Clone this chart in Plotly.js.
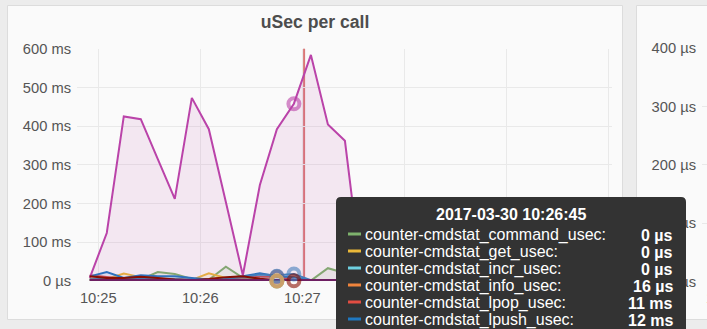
<!DOCTYPE html>
<html><head><meta charset="utf-8">
<script src="https://cdn.plot.ly/plotly-3.0.1.min.js"></script>
<style>html,body{margin:0;padding:0;background:#ececec;overflow:hidden}</style>
</head><body><div id="chart" style="width:707px;height:329px"></div>
<script>
// ---------- data ----------
const times = ['2017-03-30 10:24:55','2017-03-30 10:25:05','2017-03-30 10:25:15','2017-03-30 10:25:25',
  '2017-03-30 10:25:35','2017-03-30 10:25:45','2017-03-30 10:25:55','2017-03-30 10:26:05',
  '2017-03-30 10:26:15','2017-03-30 10:26:25','2017-03-30 10:26:35','2017-03-30 10:26:45',
  '2017-03-30 10:26:55','2017-03-30 10:27:05','2017-03-30 10:27:15','2017-03-30 10:27:25','2017-03-30 10:27:35'];
// values in ms
const commandUsec = [3, 4, 3, 4, 23, 18, 5, 3, 37, 8, 3, 0, 0, 1, 33, 20, 8];
const getUsec     = [6, 5, 19, 10, 6, 4, 3, 20, 8, 4, 3, 0, 0, 0, 0, 0, 0];
const incrUsec    = [3, 6, 4, 8, 5, 3, 2, 3, 4, 3, 3, 0, 0, 0, 0, 0, 0];
const infoUsec    = [2, 2, 2, 2, 2, 2, 1, 2, 2, 2, 1, 0.016, 1, 1, 1, 1, 1];
const lpopUsec    = [15, 10, 6, 8, 5, 4, 3, 5, 8, 10, 11, 11, 4, 1, 1, 1, 1];
const lpushUsec   = [12, 23, 8, 15, 12, 12, 8, 4, 8, 12, 20, 12, 10, 1, 1, 1, 1];
const lrangeUsec  = [8, 124, 425, 418, 315, 212, 473, 392, 204, 15, 248, 392, 458, 584, 404, 362, 5];
const rpopUsec    = [4, 6, 5, 7, 6, 5, 3, 4, 6, 10, 17, 15, 18, 2, 1, 1, 1];
const rpushUsec   = [12, 8, 8, 11, 8, 4, 2, 5, 10, 12, 6, 2, 0.5, 0.5, 0.5, 0.5, 0.5];
const setUsec     = [1.5, 1.5, 1.5, 1.5, 1.5, 1.5, 1.5, 1.5, 1.5, 1.5, 1.5, 1.5, 1.5, 1.5, 1.5, 1.5, 1.5];

const seriesNames = ['counter-cmdstat_command_usec','counter-cmdstat_get_usec','counter-cmdstat_incr_usec',
  'counter-cmdstat_info_usec','counter-cmdstat_lpop_usec','counter-cmdstat_lpush_usec',
  'counter-cmdstat_lrange_usec','counter-cmdstat_rpop_usec','counter-cmdstat_rpush_usec','counter-cmdstat_set_usec'];
const seriesValues = [commandUsec, getUsec, incrUsec, infoUsec, lpopUsec, lpushUsec, lrangeUsec, rpopUsec, rpushUsec, setUsec];
const seriesColors = ['#7EB26D','#EAB839','#6ED0E0','#EF843C','#E24D42','#1F78C1','#BA43A9','#447EBC','#890F02','#6D1F62'];

const xTickVals = ['2017-03-30 10:25:00','2017-03-30 10:26:00','2017-03-30 10:27:00',
  '2017-03-30 10:28:00','2017-03-30 10:29:00','2017-03-30 10:30:00'];
const xTickText = ['10:25','10:26','10:27','','',''];   // later labels are hidden under the tooltip
const yTickVals = [0, 100, 200, 300, 400, 500, 600];
const yTickText = ['0 µs','100 ms','200 ms','300 ms','400 ms','500 ms','600 ms'];
const y2TickVals = [0, 100, 200, 300, 400];
const y2TickText = ['0 µs','100 µs','200 µs','300 µs','400 µs'];
const xRange = ['2017-03-30 10:24:47.5', '2017-03-30 10:30:02'];
const panelTitle = 'uSec per call';
const secondPanelFirstTick = '10:25';
const markerTime = '2017-03-30 10:27:01';
const hoverIndexA = 11;           // tooltip time
const hoverSeriesA = [4, 5, 0, 1, 2, 3];
const hoverIndexB = 12;
const hoverSeriesB = [6, 7, 8];
const tooltipSeries = [0, 1, 2, 3, 4, 5];

// ---------- helpers ----------
const W = 707, H = 329;
const px = x => x / W, py = y => 1 - y / H;
const P = (x, y) => px(x).toFixed(5) + ',' + py(y).toFixed(5);
function rgba(hex, a) {
  const n = parseInt(hex.slice(1), 16);
  return 'rgba(' + (n >> 16) + ',' + ((n >> 8) & 255) + ',' + (n & 255) + ',' + a + ')';
}
function fmt(v) {
  if (v === 0) return '0 µs';
  if (v < 1) return Math.round(v * 1000) + ' µs';
  return Math.round(v) + ' ms';
}
const FONT = 'Liberation Sans, Arial, sans-serif';

// ---------- traces ----------
const traces = [];
seriesValues.forEach((vals, i) => {
  traces.push({
    type: 'scatter', mode: 'lines', name: seriesNames[i], x: times, y: vals,
    line: {color: seriesColors[i], width: i === 9 ? 3 : 2},
    fill: 'tozeroy', fillcolor: rgba(seriesColors[i], 0.1),
    hoverinfo: 'skip', xaxis: 'x', yaxis: 'y', cliponaxis: false
  });
});
function hoverTrace(idx, list) {
  return {
    type: 'scatter', mode: 'markers', cliponaxis: false,
    x: list.map(() => times[idx]), y: list.map(s => seriesValues[s][idx]),
    marker: {symbol: 'circle-open', size: 11, color: list.map(s => rgba(seriesColors[s], 0.6)),
             line: {width: 4}},
    hoverinfo: 'skip', xaxis: 'x', yaxis: 'y'
  };
}
traces.push(hoverTrace(hoverIndexA, hoverSeriesA));
traces.push(hoverTrace(hoverIndexB, hoverSeriesB));
traces.push({type: 'scatter', mode: 'lines', x: [], y: [], xaxis: 'x2', yaxis: 'y2', hoverinfo: 'skip'});

// ---------- shapes ----------
const shapes = [
  {type: 'rect', xref: 'paper', yref: 'paper', x0: px(7.5), x1: px(622.5), y0: py(319.5), y1: py(5.5),
   fillcolor: '#fafafa', line: {color: '#dcdcdc', width: 1}, layer: 'below'},
  {type: 'rect', xref: 'paper', yref: 'paper', x0: px(636.5), x1: px(760), y0: py(319.5), y1: py(5.5),
   fillcolor: '#fafafa', line: {color: '#dcdcdc', width: 1}, layer: 'below'},
  {type: 'line', xref: 'x', yref: 'paper', x0: markerTime, x1: markerTime, y0: py(281), y1: py(48.7),
   line: {color: 'rgba(212,96,96,0.85)', width: 2}, layer: 'below'},
  {type: 'path', xref: 'paper', yref: 'paper', layer: 'above',
   path: 'M' + P(336, 345) + 'L' + P(336, 202) + 'Q' + P(336, 197) + ' ' + P(341, 197) +
         'L' + P(681, 197) + 'Q' + P(686, 197) + ' ' + P(686, 202) + 'L' + P(686, 345) + 'Z',
   fillcolor: 'rgb(51,51,51)', line: {width: 0}}
];

// ---------- tooltip text ----------
const rowY = [235, 252, 269, 286, 303, 320];
const annotations = [
  {xref: 'paper', yref: 'paper', x: px(511), y: py(214), xanchor: 'center', yanchor: 'middle',
   text: '<b>' + times[hoverIndexA] + '</b>', showarrow: false, font: {family: FONT, size: 16, color: '#ffffff'}},
  {xref: 'paper', yref: 'paper', x: px(704), y: py(298), xanchor: 'left', yanchor: 'middle',
   text: secondPanelFirstTick, showarrow: false, font: {family: FONT, size: 14.7, color: '#555555'}}
];
tooltipSeries.forEach((s, r) => {
  shapes.push({type: 'line', xref: 'paper', yref: 'paper', x0: px(348), x1: px(361), y0: py(rowY[r] - 1), y1: py(rowY[r] - 1),
    line: {color: seriesColors[s], width: 3}, layer: 'above'});
  annotations.push({xref: 'paper', yref: 'paper', x: px(363), y: py(rowY[r]), xanchor: 'left', yanchor: 'middle',
    text: seriesNames[s] + ':', showarrow: false, font: {family: FONT, size: 16, color: '#ffffff'}});
  annotations.push({xref: 'paper', yref: 'paper', x: px(675), y: py(rowY[r]), xanchor: 'right', yanchor: 'middle',
    text: '<b>' + fmt(seriesValues[s][hoverIndexA]) + '</b>', showarrow: false, font: {family: FONT, size: 16, color: '#ffffff'}});
});

const layout = {
  width: W, height: H, margin: {l: 0, r: 0, t: 0, b: 0},
  paper_bgcolor: '#ececec', plot_bgcolor: 'rgba(0,0,0,0)',
  showlegend: false, hovermode: false,
  font: {family: FONT, size: 14.7, color: '#555555'},
  title: {text: panelTitle, x: px(315), xanchor: 'center', xref: 'paper', y: py(22), yref: 'paper', yanchor: 'middle',
          font: {family: FONT, size: 17.6, color: '#4d4d4d', weight: 'bold'}},
  xaxis: {type: 'date', domain: [px(77), px(612)], range: xRange, anchor: 'y',
          tickmode: 'array', tickvals: xTickVals, ticktext: xTickText,
          showgrid: true, gridcolor: '#e9e9e9', gridwidth: 1, zeroline: false, showline: false,
          ticks: '', ticklabelstandoff: 6, tickfont: {family: FONT, size: 14.7, color: '#555555'}},
  yaxis: {domain: [py(281), py(48.7)], range: [0, 600], anchor: 'x',
          tickvals: yTickVals, ticktext: yTickText, showgrid: true, gridcolor: '#e9e9e9', gridwidth: 1,
          zeroline: false, showline: false, ticks: '', ticklabelstandoff: 5,
          tickfont: {family: FONT, size: 14.7, color: '#555555'}},
  xaxis2: {type: 'date', domain: [px(702), 1], range: xRange, anchor: 'y2', showticklabels: false,
           showgrid: false, zeroline: false, showline: false, ticks: ''},
  yaxis2: {domain: [py(281.7), py(48)], range: [0, 400], anchor: 'x2',
           tickvals: y2TickVals, ticktext: y2TickText, showgrid: true, gridcolor: '#e9e9e9',
           zeroline: false, showline: false, ticks: '', ticklabelstandoff: 5,
           tickfont: {family: FONT, size: 14.7, color: '#555555'}},
  shapes: shapes, annotations: annotations
};
Plotly.newPlot('chart', traces, layout, {staticPlot: true, displayModeBar: false});
</script></body></html>
